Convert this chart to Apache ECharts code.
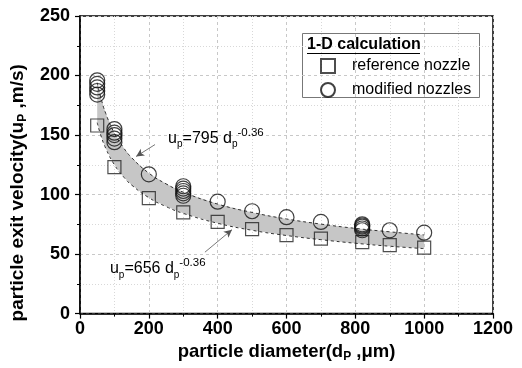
<!DOCTYPE html>
<html><head><meta charset="utf-8">
<script src="https://cdn.jsdelivr.net/npm/echarts@6/dist/echarts.min.js"></script>
<style>html,body{margin:0;padding:0;background:#fff}#c{width:522px;height:368px}</style>
</head><body><div id="c"></div>
<script>
// reference nozzle (squares)
const refX = [50,100,200,300,400,500,600,700,820,900,1000];
const refY = [158,123,97,85,77,71,66,63,60,57.5,55.5];
// modified nozzles (circles)
const modX = [50,50,50,50,50,100,100,100,100,100,200,300,300,300,300,300,400,500,600,700,820,820,820,820,820,900,1000];
const modY = [184,187,190,193,196,144,147,150,152,155,117,99,101,103,105,107,94,86,81,77,70,71.5,73,74,75,70,68];
// shaded band (upper: 795 dp^-0.36, lower: 656 dp^-0.36), read at these diameters
const bandX = [50,60,75,100,125,150,200,250,300,400,500,600,700,800,900,1000];
const bandUpper = [194,182,168,151.5,140,131,118,109,102,92,85,79.5,75.2,71.6,68.7,66.1];
const bandLower = [160.4,150.2,138.7,125,115.4,108,97.4,89.9,84.2,75.9,70,65.6,62.1,59.1,56.6,54.6];
// tick labels
const xTicks = [0,200,400,600,800,1000,1200];
const yTicks = [0,50,100,150,200,250];
// annotations (data coords)
const ann = [
  {text:'795', at:[256,147], arrowFrom:[218,142], arrowTo:[163,132]},
  {text:'656', at:[87,37.5], arrowFrom:[363,51.6], arrowTo:[441.6,70.5]}
];

const zip = (a,b)=>a.map((v,i)=>[v,b[i]]);
const chart = echarts.init(document.getElementById('c'), null, {renderer:'canvas'});
const FONT = 'Liberation Sans, Arial, sans-serif';

chart.setOption({
  animation:false,
  grid:{left:80,right:29,top:16,bottom:47,show:true,borderColor:'#000',borderWidth:1.5,backgroundColor:'transparent'},
  xAxis:{type:'value',min:xTicks[0],max:xTicks[xTicks.length-1],interval:200,
    axisLine:{lineStyle:{color:'#000',width:1.5}},
    axisTick:{length:5,lineStyle:{color:'#000',width:1.2}},
    minorTick:{show:true,splitNumber:2,length:3,lineStyle:{color:'#000',width:1}},
    splitLine:{show:true,lineStyle:{color:'#c8c8c8',type:[3,3],width:1}},
    minorSplitLine:{show:true,lineStyle:{color:'#d8d8d8',type:[1,2],width:1}},
    axisLabel:{margin:6,color:'#000',fontFamily:FONT,fontWeight:'bold',fontSize:18,formatter:v=>String(v)},
    name:'{b|particle diameter(d}{s|P}{b| ,μm)}',nameLocation:'middle',nameGap:24,
    nameTextStyle:{rich:{b:{fontFamily:FONT,fontWeight:'bold',fontSize:18.5,color:'#000'},
      s:{fontFamily:FONT,fontWeight:'bold',fontSize:12,color:'#000',padding:[10,0,0,0]}}}
  },
  yAxis:{type:'value',min:yTicks[0],max:yTicks[yTicks.length-1],interval:50,
    axisLine:{show:true,lineStyle:{color:'#000',width:1.5}},
    axisTick:{show:true,length:5,lineStyle:{color:'#000',width:1.2}},
    minorTick:{show:true,splitNumber:2,length:3,lineStyle:{color:'#000',width:1}},
    splitLine:{show:true,lineStyle:{color:'#c8c8c8',type:[3,3],width:1}},
    minorSplitLine:{show:true,lineStyle:{color:'#d8d8d8',type:[1,2],width:1}},
    axisLabel:{margin:10,color:'#000',fontFamily:FONT,fontWeight:'bold',fontSize:18,formatter:v=>String(v)},
    name:'{b|particle exit velocity(u}{s|P}{b| ,m/s)}',nameLocation:'middle',nameGap:42,
    nameTextStyle:{padding:[0,56,0,0],rich:{b:{fontFamily:FONT,fontWeight:'bold',fontSize:19,color:'#000'},
      s:{fontFamily:FONT,fontWeight:'bold',fontSize:12,color:'#000',padding:[10,0,0,0]}}}
  },
  legend:{data:['reference nozzle','modified nozzles'],orient:'vertical',left:320,top:58,padding:0,
    itemWidth:14,itemHeight:14,itemGap:8,
    textStyle:{fontFamily:FONT,fontSize:16,color:'#000',padding:[0,0,0,12]}},
  series:[
    {type:'custom',name:'band',silent:true,z:1,data:[[0,0]],
     renderItem:function(params,api){
       const pts=[];
       for(let i=0;i<bandX.length;i++) pts.push(api.coord([bandX[i],bandUpper[i]]));
       for(let i=bandX.length-1;i>=0;i--) pts.push(api.coord([bandX[i],bandLower[i]]));
       return {type:'polygon',shape:{points:pts},style:{fill:'#c6c6c6',stroke:null}};
     }},
    {type:'line',name:'upper',data:zip(bandX,bandUpper),showSymbol:false,symbol:'none',smooth:true,z:2,
     lineStyle:{color:'#333',width:1,type:[3,3]},silent:true,
     markLine:{silent:true,symbol:['none','arrow'],symbolSize:[6,8],label:{show:false},
       lineStyle:{color:'#555',width:0.8,type:'solid'},
       data:ann.map(a=>[{coord:a.arrowFrom},{coord:a.arrowTo}])}},
    {type:'line',name:'lower',data:zip(bandX,bandLower),showSymbol:false,symbol:'none',smooth:true,z:2,
     lineStyle:{color:'#333',width:1,type:[3,3]},silent:true},
    {type:'scatter',name:'reference nozzle',data:zip(refX,refY),symbol:'rect',symbolSize:13,z:5,
     itemStyle:{color:'rgba(0,0,0,0)',borderColor:'#222',borderWidth:1.2}},
    {type:'scatter',name:'modified nozzles',data:zip(modX,modY),symbol:'circle',symbolSize:15,z:5,
     itemStyle:{color:'rgba(0,0,0,0)',borderColor:'#111',borderWidth:1.2}}
  ]
});

const gr = [];
ann.forEach(a=>{
  const p = chart.convertToPixel({xAxisIndex:0,yAxisIndex:0},a.at);
  gr.push({type:'text',left:p[0],top:p[1]-12,z:10,silent:true,
    style:{text:'{m|u}{s|p}{m|='+a.text+' d}{s|p}{t|-0.36}',
      rich:{m:{fontFamily:FONT,fontSize:16,fill:'#000',lineHeight:24},
            s:{fontFamily:FONT,fontSize:10,fill:'#000',padding:[12,0,0,0]},
            t:{fontFamily:FONT,fontSize:11.5,fill:'#000',padding:[0,0,12,0]}}}});
});
// legend box and title
gr.push({type:'rect',shape:{x:302.5,y:33.5,width:177,height:64},style:{fill:'#fff',stroke:'#777',lineWidth:1},z:-1,silent:true});
gr.push({type:'text',left:307,top:37,z:10,silent:true,style:{text:'1-D calculation',fontFamily:FONT,fontWeight:'bold',fontSize:16,fill:'#000'}});
gr.push({type:'line',shape:{x1:307,y1:53.5,x2:420,y2:53.5},style:{stroke:'#000',lineWidth:1.2},z:10,silent:true});
chart.setOption({graphic:gr});
</script>
</body></html>
